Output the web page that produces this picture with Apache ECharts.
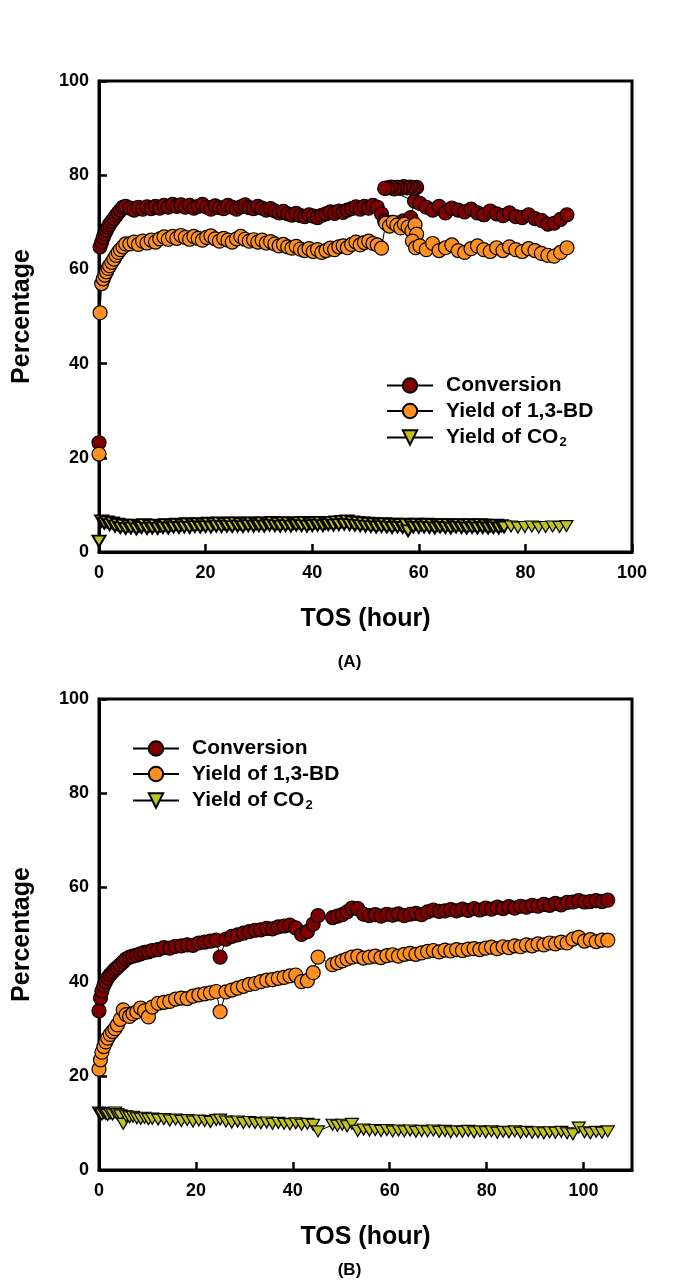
<!DOCTYPE html>
<html><head><meta charset="utf-8">
<script src="https://cdn.jsdelivr.net/npm/echarts@6/dist/echarts.min.js"></script>
<style>html,body{margin:0;padding:0;background:#fff}#c{width:699px;height:1283px}</style>
</head><body><div id="c"></div><script>
// ---------- Panel (A) ----------
// first run (0 - 53 h), shared by conversion and 1,3-BD yield
const tA1 = [0,0.2,0.5,0.8,1.1,1.4,1.7,2.0,2.4,2.8,3.2,3.6,4.0,4.5,5.0,
 5.8,6.6,7.4,8.2,9.0,9.8,10.6,11.4,12.2,13.0,
 13.8,14.6,15.4,16.2,17.0,17.8,18.6,19.4,20.2,21.0,
 21.8,22.6,23.4,24.2,25.0,25.8,26.6,27.4,28.2,29.0,
 29.8,30.6,31.4,32.2,33.0,33.8,34.6,35.4,36.2,37.0,
 37.8,38.6,39.4,40.2,41.0,41.8,42.6,43.4,44.2,45.0,
 45.8,46.6,47.4,48.2,49.0,49.8,50.6,51.4,52.2,53.0];
const convA1 = [23.2,64.8,65.8,66.8,67.6,68.3,69.0,69.6,70.2,70.8,71.4,72.0,72.6,73.2,73.4,
 73.0,72.6,73.2,72.8,73.3,72.9,73.4,73.0,73.6,73.2,
 73.8,73.4,73.7,73.2,73.6,73.0,73.4,73.8,73.2,72.8,
 73.5,73.1,72.9,73.6,73.2,72.8,73.3,73.7,73.1,72.9,
 73.4,73.0,72.6,72.9,72.4,72.0,72.3,71.8,71.5,71.9,
 71.4,71.2,71.6,71.3,71.0,71.5,71.8,72.2,71.9,72.4,
 72.1,72.6,72.9,73.3,72.8,73.4,73.0,73.6,73.2,71.8];
const bdA1 = [20.8,50.8,57.0,58.0,58.8,59.5,60.2,60.8,61.5,62.2,63.0,63.6,64.2,64.8,65.4,
 65.4,65.8,65.3,66.0,65.6,66.2,65.8,66.5,66.9,66.4,
 67.0,66.6,67.2,66.8,66.4,67.0,66.6,66.2,66.8,67.1,
 66.5,66.0,66.6,66.2,65.8,66.5,67.0,66.4,66.0,66.3,
 65.8,66.2,65.6,65.9,65.4,65.0,65.3,64.8,64.5,64.9,
 64.3,64.0,64.4,63.8,64.2,63.6,64.0,64.5,64.2,64.8,
 65.0,64.6,65.3,65.8,65.2,65.7,66.0,65.5,65.2,64.5];
// disturbed section (53.5 - 60 h), read in drawing order
const tConvA2 = [53.6,54.3,55.0,55.7,56.4,57.1,57.8,58.5,59.2,59.6,59.0,58.4,57.8,57.2,56.6,56.0,55.4,54.8,54.2,53.6];
const convA2  = [70.2,69.8,70.0,69.6,69.9,70.3,69.8,71.0,74.5,77.4,77.2,77.5,77.3,77.6,77.2,77.4,77.1,77.5,77.3,77.2];
const tBdA2 = [53.8,54.5,55.2,55.9,56.6,57.3,58.0,58.7,59.3,59.6,58.8,59.4];
const bdA2  = [69.8,69.2,70.0,69.4,68.8,69.6,69.0,68.2,69.5,67.5,66.0,64.6];
// last run (60 - 88 h)
const tA3 = [60.2,61.4,62.6,63.8,65.0,66.2,67.4,68.6,69.8,71.0,72.2,73.4,
 74.6,75.8,77.0,78.2,79.4,80.6,81.8,83.0,84.2,85.4,86.6,87.8];
const convA3 = [74.0,73.2,72.6,73.4,72.0,73.0,72.6,72.2,72.8,72.0,71.6,72.4,
 71.8,71.4,72.0,71.2,71.0,71.6,70.8,70.4,69.6,69.8,70.6,71.6];
const bdA3 = [65.0,64.2,65.5,64.0,64.6,65.2,64.0,63.6,64.4,65.0,64.2,63.8,
 64.6,64.0,64.8,64.2,63.8,64.4,64.0,63.4,63.0,62.8,63.6,64.6];
const tCO2A = [0,0.5,1,1.5,2,2.5,3,3.5,4,4.5,
 5,5.5,6,6.5,7,7.5,8,8.5,9,9.5,
 10,10.5,11,11.5,12,12.5,13,13.5,14,14.5,
 15,15.5,16,16.5,17,17.5,18,18.5,19,19.5,
 20,20.5,21,21.5,22,22.5,23,23.5,24,24.5,
 25,25.5,26,26.5,27,27.5,28,28.5,29,29.5,
 30,30.5,31,31.5,32,32.5,33,33.5,34,34.5,
 35,35.5,36,36.5,37,37.5,38,38.5,39,39.5,
 40,40.5,41,41.5,42,42.5,43,43.5,44,44.5,
 45,45.5,46,46.5,47,47.5,48,48.5,49,49.5,
 50,50.5,51,51.5,52,52.5,53,53.5,54,54.5,
 55,55.5,56,56.5,57,57.5,58,58.5,59,59.5,
 60,60.5,61,61.5,62,62.5,63,63.5,64,64.5,
 65,65.5,66,66.5,67,67.5,68,68.5,69,69.5,
 70,70.5,71,71.5,72,72.5,73,73.5,74,74.5,
 75,75.5,76,
 77.3,78.6,79.9,81.2,82.5,83.8,85.1,86.4,87.7];
const co2A = [2.3,6.6,6.1,6.4,5.8,6.2,5.5,5.9,5.2,5.7,
 5.0,5.6,5.1,5.7,4.9,5.5,5.2,5.8,5.0,5.6,
 5.1,5.7,5.0,5.6,5.2,5.8,5.1,5.7,5.3,5.9,
 5.2,5.8,5.3,6.0,5.2,5.9,5.4,6.0,5.3,5.9,
 5.4,6.1,5.3,6.0,5.5,6.2,5.4,6.0,5.5,6.1,
 5.4,6.2,5.5,6.0,5.4,6.1,5.6,6.2,5.5,6.0,
 5.6,6.2,5.5,6.1,5.7,6.3,5.6,6.1,5.5,6.2,
 5.6,6.2,5.5,6.1,5.7,6.2,5.6,6.3,5.5,6.1,
 5.6,6.2,5.7,6.3,5.6,6.1,5.8,6.3,5.7,6.4,
 5.8,6.5,5.9,6.6,5.8,6.4,5.7,6.3,5.6,6.2,
 5.5,6.1,5.4,6.0,5.3,5.9,5.4,6.0,5.3,5.9,
 5.2,5.9,5.3,5.8,5.2,5.9,4.5,5.8,5.3,5.9,
 5.2,5.8,5.3,5.9,5.2,5.8,5.1,5.7,5.3,5.8,
 5.2,5.8,5.1,5.7,5.3,5.8,5.2,5.7,5.1,5.8,
 5.2,5.7,5.1,5.8,5.2,5.7,5.1,5.6,5.2,5.7,
 5.1,5.6,5.3,
 5.4,5.2,5.3,5.4,5.2,5.3,5.4,5.3,5.5];

// ---------- Panel (B) ----------
const tB = [0,0.3,0.6,1.0,1.4,1.8,2.3,2.8,3.3,3.8,4.4,5.0,5.6,6.3,7.0,7.8,8.6,9.4,10.2,11.0,
 12.2,13.4,14.6,15.8,17.0,18.2,19.4,20.6,21.8,23.0,24.2,25.0,26.2,27.4,28.6,29.8,31.0,32.2,
 33.4,34.6,35.8,37.0,38.2,39.4,40.6,41.8,43.0,44.2,45.2,
 48.2,49.2,50.2,51.2,52.2,53.4,54.6,55.8,57.0,58.2,59.4,60.6,61.8,63.0,64.2,65.4,66.6,67.8,
 69.0,70.2,71.4,72.6,73.8,75.0,76.2,77.4,78.6,79.8,81.0,82.2,83.4,84.6,85.8,87.0,88.2,89.4,
 90.6,91.8,93.0,94.2,95.4,96.6,97.8,99.0,100.2,101.4,102.6,103.8,105.0];
const convB = [33.8,36.5,38.0,39.2,40.0,40.8,41.5,42.0,42.6,43.0,43.6,44.2,44.8,45.2,45.4,45.6,45.9,46.2,46.3,46.6,
 46.8,47.2,47.1,47.5,47.6,47.8,47.7,48.2,48.4,48.6,48.8,45.2,49.0,49.6,49.9,50.3,50.6,50.9,
 51.0,51.3,51.2,51.6,51.8,52.0,51.4,50.0,50.6,52.2,54.0,
 53.6,53.9,54.2,54.8,55.6,55.5,54.3,54.0,54.2,53.9,54.3,54.1,54.4,54.0,54.3,54.5,54.2,54.8,
 55.2,54.9,55.0,55.3,55.0,55.4,55.1,55.5,55.2,55.6,55.4,55.8,55.5,55.9,55.6,56.0,55.8,56.2,
 56.0,56.4,56.2,56.6,56.3,56.8,56.9,57.2,56.9,57.0,57.2,57.0,57.3];
const bdB = [21.4,23.4,25.0,26.2,27.2,28.0,28.8,29.4,30.0,30.8,32.0,34.0,33.0,32.6,33.2,33.6,34.4,33.8,32.5,34.6,
 35.4,35.6,35.8,36.3,36.5,36.4,36.9,37.2,37.4,37.6,37.9,33.6,37.8,38.2,38.6,39.0,39.4,39.6,
 40.0,40.3,40.4,40.7,40.9,41.2,41.4,40.0,40.2,41.9,45.2,
 43.6,44.0,44.4,44.8,45.2,45.4,45.0,45.2,45.4,45.1,45.5,45.7,45.4,45.8,46.0,45.8,46.1,46.4,
 46.6,46.3,46.7,46.5,46.8,46.6,46.9,47.0,46.8,47.1,47.3,47.0,47.4,47.2,47.6,47.4,47.8,47.6,
 48.0,47.8,48.2,48.0,48.4,48.2,49.0,49.4,48.6,48.9,48.5,48.8,48.8];
const co2B = [12.2,12.0,11.8,12.1,11.9,11.7,12.0,11.8,12.2,11.9,11.6,9.8,11.4,11.2,11.3,11.0,10.9,11.1,10.8,10.9,
 10.7,10.8,10.5,10.7,10.4,10.6,10.3,10.5,10.4,10.2,10.6,10.7,10.3,10.1,10.3,10.0,10.2,10.0,
 9.9,10.1,9.8,10.0,9.8,9.7,9.9,9.6,9.8,9.6,8.2,
 9.6,9.4,9.6,9.3,9.8,8.3,8.6,8.4,8.5,8.3,8.5,8.2,8.4,8.2,8.4,8.1,8.3,8.2,
 8.4,8.1,8.3,8.0,8.2,8.1,8.3,8.0,8.2,8.0,8.2,7.9,8.1,8.0,8.2,7.9,8.1,7.9,
 8.0,7.8,8.0,7.9,8.1,7.8,7.6,9.0,8.0,7.8,8.1,7.9,8.2];

const names = ['Conversion','Yield of 1,3-BD','Yield of CO2'];

// ---------- styling ----------
const FONT = 'Arial, "Liberation Sans", sans-serif';
const COLORS = ['#800000','#FF9020','#C2C21E'];
const chart = echarts.init(document.getElementById('c'), null, {renderer:'canvas'});

function zip(xs, ys){ return xs.map((x,i)=>[x, ys[i]]); }
function ser(idx, name, data, k){
  const tri = k === 2;
  return {
    type:'line', name, xAxisIndex:idx, yAxisIndex:idx, data,
    symbol: tri ? 'triangle' : 'circle',
    symbolSize: tri ? [13,11] : 14,
    symbolRotate: tri ? 180 : 0,
    showAllSymbol: true, silent:true, animation:false,
    lineStyle:{color:'#000', width:1},
    itemStyle:{color:COLORS[k], borderColor:'#000', borderWidth:1.2},
    emphasis:{disabled:true}
  };
}
// dense early part of the CO2 record in panel A is drawn with heavier outlines
const co2AData = zip(tCO2A, co2A).map((p, i) => p[0] <= 76 ? {value:p, itemStyle:{borderWidth:2}} : {value:p});

function gridAxisX(idx, max){
  return {
    type:'value', gridIndex:idx, min:0, max:max, interval:20,
    name:'TOS (hour)', nameLocation:'middle', nameGap:55,
    nameTextStyle:{fontFamily:FONT, fontSize:25, fontWeight:'bold', color:'#000'},
    axisLine:{show:true, onZero:false, lineStyle:{color:'#000', width:3}},
    axisTick:{show:true, inside:true, length:8, lineStyle:{color:'#000', width:2.5}},
    axisLabel:{fontFamily:FONT, fontSize:18, fontWeight:'bold', color:'#000', margin:12,
      showMaxLabel: max === 100},
    splitLine:{show:false}
  };
}
function gridAxisY(idx){
  return {
    type:'value', gridIndex:idx, min:0, max:100, interval:20,
    name:'Percentage', nameLocation:'middle', nameGap:64,
    nameTextStyle:{fontFamily:FONT, fontSize:25, fontWeight:'bold', color:'#000'},
    axisLine:{show:true, onZero:false, lineStyle:{color:'#000', width:3}},
    axisTick:{show:true, inside:true, length:8, lineStyle:{color:'#000', width:2.5}},
    axisLabel:{fontFamily:FONT, fontSize:18, fontWeight:'bold', color:'#000', margin:10},
    splitLine:{show:false}
  };
}
function legend(left, top){
  return {
    orient:'vertical', left, top, itemWidth:46, itemHeight:18, itemGap:4.5, padding:0,
    selectedMode:false, data:names,
    textStyle:{fontFamily:FONT, fontSize:21, fontWeight:'bold', color:'#000',
      rich:{
        b:{fontFamily:FONT, fontSize:21, fontWeight:'bold', color:'#000', lineHeight:25, padding:[0,0,0,8]},
        s:{fontFamily:FONT, fontSize:13, fontWeight:'bold', color:'#000', lineHeight:15, padding:[10,0,0,1]}
      }},
    formatter: n => n === 'Yield of CO2' ? '{b|Yield of CO}{s|2}' : '{b|' + n + '}'
  };
}

const option = {
  backgroundColor:'#fff',
  animation:false,
  title:[
    {text:'(A)', left:'center', top:654, textStyle:{fontFamily:FONT, fontSize:17, fontWeight:'bold', color:'#000'}, padding:0},
    {text:'(B)', left:'center', top:1262, textStyle:{fontFamily:FONT, fontSize:17, fontWeight:'bold', color:'#000'}, padding:0}
  ],
  grid:[
    {left:99, top:81, width:533, height:471, show:true, borderColor:'#000', borderWidth:3, backgroundColor:'transparent'},
    {left:99, top:699, width:533, height:471, show:true, borderColor:'#000', borderWidth:3, backgroundColor:'transparent'}
  ],
  legend:[legend(386, 375), legend(132, 738)],
  xAxis:[gridAxisX(0, 100), gridAxisX(1, 110)],
  yAxis:[gridAxisY(0), gridAxisY(1)],
  series:[
    ser(0, names[0], zip(tA1, convA1).concat(zip(tConvA2, convA2), zip(tA3, convA3)), 0),
    ser(0, names[1], zip(tA1, bdA1).concat(zip(tBdA2, bdA2), zip(tA3, bdA3)), 1),
    ser(0, names[2], co2AData, 2),
    ser(1, names[0], zip(tB, convB), 0),
    ser(1, names[1], zip(tB, bdB), 1),
    ser(1, names[2], zip(tB, co2B), 2)
  ]
};
chart.setOption(option);
</script></body></html>
